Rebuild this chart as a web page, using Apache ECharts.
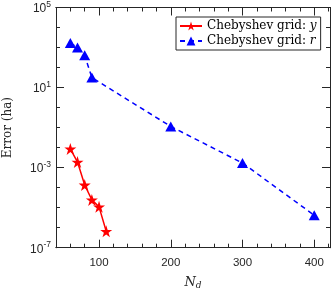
<!DOCTYPE html>
<html><head><meta charset="utf-8">
<script src="https://cdn.jsdelivr.net/npm/echarts@6/dist/echarts.min.js"></script>
<style>html,body{margin:0;padding:0;background:#fff}#c{width:332px;height:292px}</style>
</head><body><div id="c"></div>
<script>
// Data
const ndY = [60, 70, 80, 90, 100, 110];
const errY = [8.6e-3, 1.9e-3, 1.36e-4, 2.45e-5, 1.1e-5, 6.6e-7];
const ndR = [60, 70, 80, 90, 200, 300, 400];
const errR = [1675, 990, 410, 31.6, 0.114, 1.7e-3, 4.2e-6];
const xMajorTicks = [100, 200, 300, 400];
const xMinorTicks = [60, 80, 120, 140, 160, 180, 220, 240, 260, 280, 320, 340, 360, 380, 420];
const seriesNames = ['Chebyshev grid: y', 'Chebyshev grid: r'];

const AX = '#262626';
const STAR = 'path://M50,0 L61.8,35.4 L99,35.4 L69,57.3 L80.4,92.7 L50,70.8 L19.6,92.7 L31,57.3 L1,35.4 L38.2,35.4 Z';

function xAxisDef(pos, ticks, len, showLabel) {
  return {
    type: 'value', position: pos, min: 40, max: 422,
    axisLine: {show: true, lineStyle: {color: AX, width: 1}},
    axisTick: {show: true, inside: true, length: len, customValues: ticks, lineStyle: {color: AX, width: 1}},
    axisLabel: {show: showLabel, customValues: ticks, color: AX, fontFamily: 'Liberation Sans', fontSize: 11.5, margin: 9},
    splitLine: {show: false}
  };
}
function yAxisDef(pos, interval, len, showLabel) {
  return {
    type: 'log', logBase: 10, position: pos, min: 1e-7, max: 1e5, interval: interval,
    axisLine: {show: true, lineStyle: {color: AX, width: 1}},
    axisTick: {show: true, inside: true, length: len, lineStyle: {color: AX, width: 1}},
    axisLabel: {
      show: showLabel, margin: 5,
      formatter: function (v) {
        const e = Math.round(Math.log10(v));
        return '{b|10}{s|' + e + '}';
      },
      rich: {
        b: {fontFamily: 'Liberation Sans', fontSize: 12, color: AX, lineHeight: 15, verticalAlign: 'bottom'},
        s: {fontFamily: 'Liberation Sans', fontSize: 8.5, color: AX, lineHeight: 15, verticalAlign: 'top'}
      }
    },
    splitLine: {show: false},
    minorTick: {show: false}
  };
}

const xAxes = [
  xAxisDef('bottom', xMajorTicks, 8, true),
  xAxisDef('bottom', xMinorTicks, 4, false),
  xAxisDef('top', xMajorTicks, 8, false),
  xAxisDef('top', xMinorTicks, 4, false)
];
xAxes[0].name = '{n|N}{d|d}';
xAxes[0].nameLocation = 'middle';
xAxes[0].nameGap = 27;
xAxes[0].nameTextStyle = {
  rich: {
    n: {fontFamily: 'DejaVu Serif', fontStyle: 'italic', fontSize: 13, color: AX},
    d: {fontFamily: 'DejaVu Serif', fontStyle: 'italic', fontSize: 9, color: AX, verticalAlign: 'bottom', padding: [6, 0, 0, 0]}
  }
};
const yAxes = [
  yAxisDef('left', 4, 8, true),
  yAxisDef('left', 1, 4, false),
  yAxisDef('right', 4, 8, false),
  yAxisDef('right', 1, 4, false)
];
yAxes[0].name = 'Error (ha)';
yAxes[0].nameLocation = 'middle';
yAxes[0].nameGap = 42;
yAxes[0].nameTextStyle = {fontFamily: 'DejaVu Serif', fontSize: 12, color: AX};

const chart = echarts.init(document.getElementById('c'), null, {renderer: 'canvas'});
chart.setOption({
  animation: false,
  backgroundColor: '#fff',
  grid: {left: 56, right: 2, top: 7.5, bottom: 44.3, containLabel: false, outerBoundsMode: 'none'},
  xAxis: xAxes,
  yAxis: yAxes,
  legend: {
    orient: 'vertical', left: 176, top: 17,
    backgroundColor: '#fff', borderColor: AX, borderWidth: 1, borderRadius: 0,
    padding: [3, 4, 3, 3], itemGap: 3, itemWidth: 22, itemHeight: 11,
    data: seriesNames,
    formatter: function (name) {
      return '{t|' + name.slice(0, -1) + '}{i|' + name.slice(-1) + '}';
    },
    textStyle: {
      rich: {
        t: {fontFamily: 'DejaVu Serif', fontSize: 12, color: '#000'},
        i: {fontFamily: 'DejaVu Serif', fontStyle: 'italic', fontSize: 12, color: '#000'}
      }
    }
  },
  series: [
    {
      name: seriesNames[0], type: 'line', xAxisIndex: 0, yAxisIndex: 0,
      data: ndY.map((x, i) => [x, errY[i]]),
      color: '#ff0000', symbol: STAR, symbolSize: 12,
      lineStyle: {color: '#ff0000', width: 1.5},
      itemStyle: {color: '#ff0000'}
    },
    {
      name: seriesNames[1], type: 'line', xAxisIndex: 0, yAxisIndex: 0,
      data: ndR.map((x, i) => [x, errR[i]]),
      color: '#0000ff', symbol: 'triangle', symbolSize: [11, 10],
      lineStyle: {color: '#0000ff', width: 1.5, type: [5, 4]},
      itemStyle: {color: '#0000ff'}
    }
  ]
});
</script></body></html>
